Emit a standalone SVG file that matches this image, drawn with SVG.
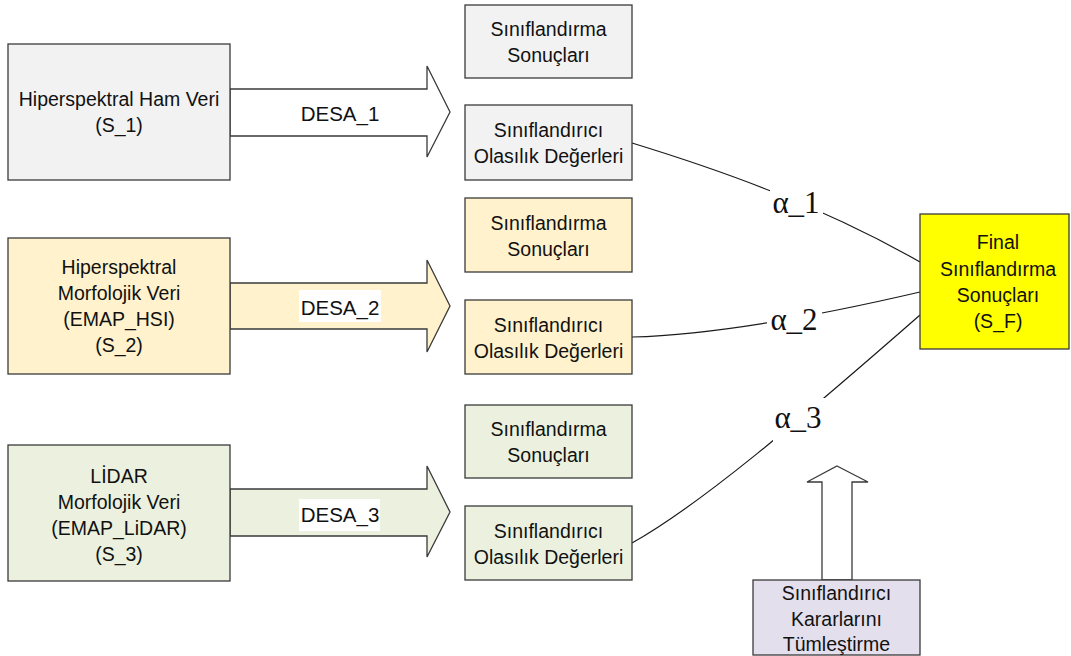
<svg xmlns="http://www.w3.org/2000/svg" width="1071" height="656" viewBox="0 0 1071 656">
  <style>
    .box { stroke: #3a3a3a; stroke-width: 1.3; }
    .gray { fill: #F2F2F2; }
    .tan { fill: #FFF2CC; }
    .green { fill: #EBF1DE; }
    .yellow { fill: #FFFF00; }
    .lav { fill: #E4DFEC; }
    .arrow { stroke: #3a3a3a; stroke-width: 1.3; stroke-linejoin: miter; }
    .curve { fill: none; stroke: #1a1a1a; stroke-width: 1.2; }
    .t { font-family: "Liberation Sans", Arial, sans-serif; font-size: 19.5px; fill: #111; text-anchor: middle; }
    .desa { font-family: "Liberation Sans", Arial, sans-serif; font-size: 20.5px; fill: #111; text-anchor: middle; }
    .alpha { font-family: "Liberation Serif", "Times New Roman", serif; font-size: 31px; fill: #111; text-anchor: middle; }
    .bg { fill: #FFFFFF; }
  </style>

  <!-- connectors: block arrows and weighted links -->
  <g id="connectors">
    <polygon id="arrow-desa1" class="arrow" fill="#FFFFFF" points="230,89 427,89 427,66 450,112 427,157 427,136 230,136"/>
    <polygon id="arrow-desa2" class="arrow tan" points="230,283 427,283 427,260 450,306 427,352 427,329 230,329"/>
    <polygon id="arrow-desa3" class="arrow green" points="230,489 427,489 427,466 450,512 427,557 427,536 230,536"/>
    <polygon id="arrow-fusion" class="arrow" fill="#FFFFFF" points="837,466 868,482 852,482 852,580 822,580 822,482 807,482"/>

    <path id="link-1" class="curve" d="M632,143 C720,170 820,205 920,262"/>
    <path id="link-2" class="curve" d="M632,337 C700,335 800,320 920,292"/>
    <path id="link-3" class="curve" d="M632,543 C700,505 800,420 920,315"/>

    <text class="desa" x="340" y="121">DESA_1</text>
    <rect class="bg" x="299" y="290" width="82" height="32"/>
    <text class="desa" x="340" y="315">DESA_2</text>
    <rect class="bg" x="299" y="499" width="81" height="32"/>
    <text class="desa" x="340" y="522">DESA_3</text>

    <rect class="bg" x="770" y="189" width="53" height="36"/>
    <text class="alpha" x="796" y="213">α_1</text>
    <rect class="bg" x="767" y="302" width="55" height="36"/>
    <text class="alpha" x="794" y="330">α_2</text>
    <rect class="bg" x="773" y="398" width="53" height="45"/>
    <text class="alpha" x="798" y="428">α_3</text>
  </g>

  <!-- input data sources -->
  <g id="src-1">
    <rect class="box gray" x="8" y="44" width="222" height="136"/>
    <text class="t" x="119" y="106">Hiperspektral Ham Veri</text>
    <text class="t" x="119" y="132">(S_1)</text>
  </g>
  <g id="src-2">
    <rect class="box tan" x="8" y="238" width="222" height="136"/>
    <text class="t" x="119" y="274">Hiperspektral</text>
    <text class="t" x="119" y="300">Morfolojik Veri</text>
    <text class="t" x="119" y="326">(EMAP_HSI)</text>
    <text class="t" x="119" y="352">(S_2)</text>
  </g>
  <g id="src-3">
    <rect class="box green" x="8" y="445" width="222" height="136"/>
    <text class="t" x="119" y="483">LİDAR</text>
    <text class="t" x="119" y="509">Morfolojik Veri</text>
    <text class="t" x="119" y="535">(EMAP_LiDAR)</text>
    <text class="t" x="119" y="561">(S_3)</text>
  </g>

  <!-- per-source outputs -->
  <g id="result-1">
    <rect class="box gray" x="465" y="5" width="167" height="73"/>
    <text class="t" x="548.5" y="36">Sınıflandırma</text>
    <text class="t" x="548.5" y="62">Sonuçları</text>
  </g>
  <g id="prob-1">
    <rect class="box gray" x="465" y="105" width="167" height="75"/>
    <text class="t" x="548.5" y="137">Sınıflandırıcı</text>
    <text class="t" x="548.5" y="163">Olasılık Değerleri</text>
  </g>
  <g id="result-2">
    <rect class="box tan" x="465" y="198" width="167" height="74"/>
    <text class="t" x="548.5" y="229.5">Sınıflandırma</text>
    <text class="t" x="548.5" y="255.5">Sonuçları</text>
  </g>
  <g id="prob-2">
    <rect class="box tan" x="465" y="300" width="167" height="74"/>
    <text class="t" x="548.5" y="331.5">Sınıflandırıcı</text>
    <text class="t" x="548.5" y="357.5">Olasılık Değerleri</text>
  </g>
  <g id="result-3">
    <rect class="box green" x="465" y="405" width="167" height="73"/>
    <text class="t" x="548.5" y="436">Sınıflandırma</text>
    <text class="t" x="548.5" y="462">Sonuçları</text>
  </g>
  <g id="prob-3">
    <rect class="box green" x="465" y="506" width="167" height="74"/>
    <text class="t" x="548.5" y="537.5">Sınıflandırıcı</text>
    <text class="t" x="548.5" y="563.5">Olasılık Değerleri</text>
  </g>

  <!-- fused output -->
  <g id="final">
    <rect class="box yellow" x="920" y="214" width="149" height="135"/>
    <text class="t" x="998" y="249">Final</text>
    <text class="t" x="998" y="276">Sınıflandırma</text>
    <text class="t" x="998" y="302">Sonuçları</text>
    <text class="t" x="998" y="328">(S_F)</text>
  </g>

  <!-- decision fusion step -->
  <g id="fusion">
    <rect class="box lav" x="753" y="580" width="167" height="75"/>
    <text class="t" x="836.5" y="600">Sınıflandırıcı</text>
    <text class="t" x="836.5" y="626">Kararlarını</text>
    <text class="t" x="836.5" y="651">Tümleştirme</text>
  </g>
</svg>
